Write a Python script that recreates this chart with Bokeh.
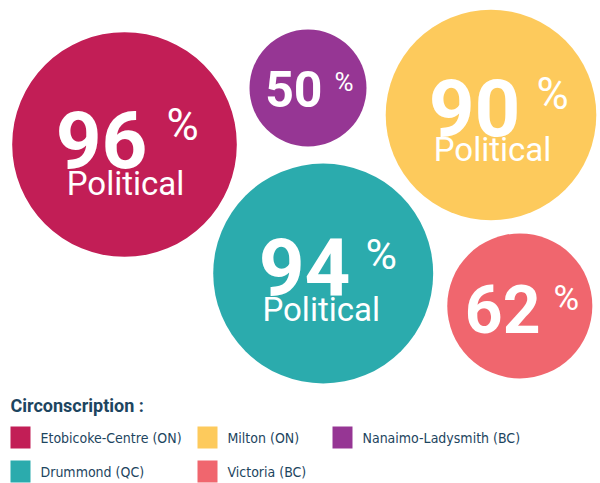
from bokeh.plotting import figure
from bokeh.models import Range1d, ColumnDataSource
from bokeh.core.properties import value
from bokeh.embed import file_html
from bokeh.resources import INLINE

# ---- data ----
ridings = ["Etobicoke-Centre (ON)", "Nanaimo-Ladysmith (BC)", "Milton (ON)", "Drummond (QC)", "Victoria (BC)"]
percent = [96, 50, 90, 94, 62]
political = [True, False, True, True, False]
colors = ["#C21E56", "#963694", "#FDCA5C", "#2BABAD", "#F0666E"]
legend_order = ["Etobicoke-Centre (ON)", "Milton (ON)", "Nanaimo-Ladysmith (BC)", "Drummond (QC)", "Victoria (BC)"]
legend_title = "Circonscription :"

# ---- layout (pixel-like coordinates) ----
cx = [124, 307.5, 490.5, 322.7, 519.3]
cy = [144, 87.5, 114.5, 273, 305.4]
r_per_pct = 1.17
num_size = ["80px", "50px", "80px", "80px", "66px"]
pct_size = ["44px", "26px", "44px", "43px", "35px"]
num_dx = [23, 14.5, 29.5, 27.3, 20.7]
num_dy = [-5, 0.5, -7.5, -7, 2.6]
pct_dx = [42, 26.5, 45.5, 42.3, 33.7]
pct_dy = [-20, -6.5, -21.5, -20, -7.4]
pol_dx = [1, 0, 1.5, -2, 0]
pol_dy = [39, 0, 34.5, 36, 0]

W, H = 600, 483
p = figure(width=W, height=H, output_backend="svg", toolbar_location=None,
           x_range=Range1d(0, W), y_range=Range1d(H, 0),
           min_border=0, background_fill_color="white", border_fill_color="white")
p.axis.visible = False
p.grid.visible = False
p.outline_line_color = None

src = ColumnDataSource(dict(x=cx, y=cy, r=[v * r_per_pct for v in percent], c=colors))
p.circle(x="x", y="y", radius="r", fill_color="c", line_color=None, source=src)

FONT = value("Roboto")
for i in range(len(percent)):
    p.text(x=[cx[i] + num_dx[i]], y=[cy[i] + num_dy[i]], text=[str(percent[i])],
           text_font=FONT, text_font_style="bold", text_font_size=num_size[i],
           text_color="white", text_align="right", text_baseline="alphabetic")
    p.text(x=[cx[i] + pct_dx[i]], y=[cy[i] + pct_dy[i]], text=["%"],
           text_font=FONT, text_font_size=pct_size[i],
           text_color="white", text_align="left", text_baseline="alphabetic")
    if political[i]:
        p.text(x=[cx[i] + pol_dx[i]], y=[cy[i] + pol_dy[i]], text=["Political"],
               text_font=FONT, text_font_size="33px",
               text_color="white", text_align="center", text_baseline="alphabetic")

# ---- legend ----
LEG_COLOR = "#1d4560"
p.text(x=[10], y=[405], text=[legend_title], text_font=value("Roboto"), text_font_style="bold",
       text_font_size="18px", text_color=LEG_COLOR, text_baseline="alphabetic")
col_x = [10, 197, 332]
row_y = [437, 471]
for k, name in enumerate(legend_order):
    i = ridings.index(name)
    c, rr = k % 3, k // 3
    p.rect(x=[col_x[c] + 10], y=[row_y[rr]], width=20, height=22,
           fill_color=colors[i], line_color=None)
    p.text(x=[col_x[c] + 30], y=[row_y[rr]], text=[name], text_font=value("DejaVu Sans Condensed"),
           text_font_size="14px", text_color=LEG_COLOR, text_baseline="middle")

open("out.html", "w").write(file_html(p, INLINE))
